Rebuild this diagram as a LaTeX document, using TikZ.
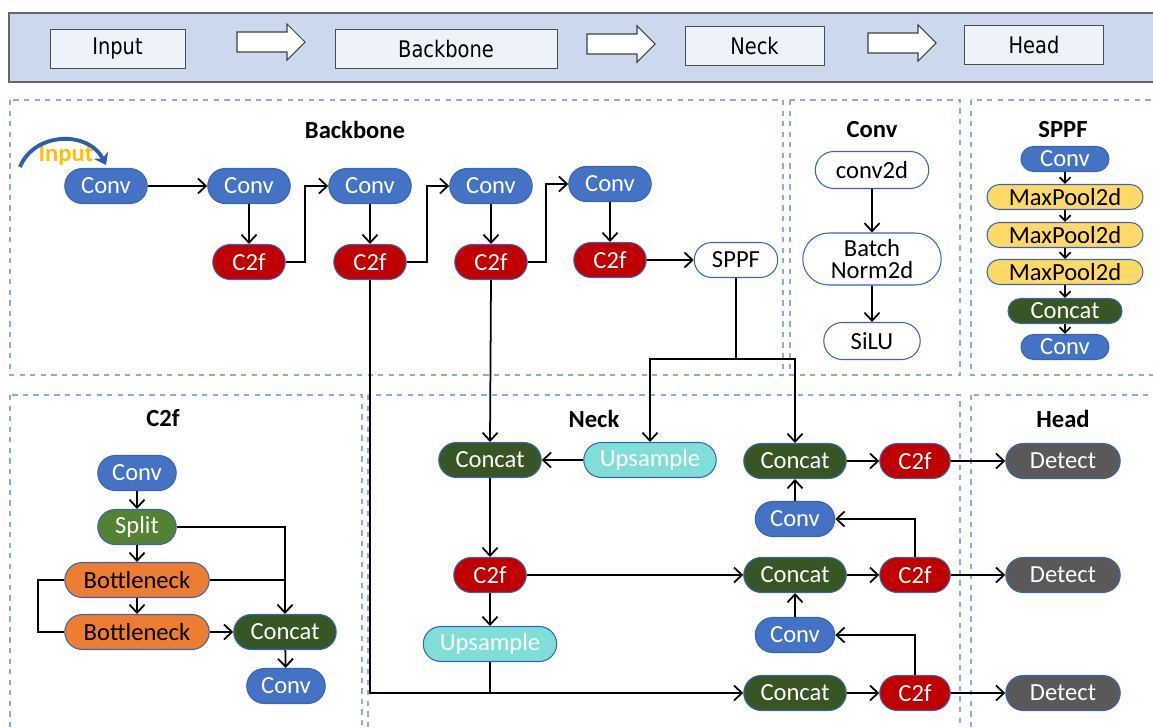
\documentclass[tikz,border=0pt]{standalone}
\usepackage{fontspec}
\setmainfont{Carlito}
\newfontfamily\barfont[FakeStretch=0.85]{DejaVu Sans}
\usepackage{xcolor}
\usetikzlibrary{shapes.misc, arrows.meta, positioning, calc}
\definecolor{convblue}{HTML}{4472C4}
\definecolor{c2fred}{HTML}{C00000}
\definecolor{catgreen}{HTML}{375623}
\definecolor{splitgreen}{HTML}{548235}
\definecolor{bnorange}{HTML}{ED7D31}
\definecolor{mpyellow}{HTML}{FFD966}
\definecolor{upcyan}{HTML}{7FDFD8}
\definecolor{detgray}{HTML}{595959}
\definecolor{edgeblue}{HTML}{3C64B4}
\definecolor{panelblue}{HTML}{8FAADC}
\definecolor{barblue}{HTML}{CCD8EE}
\definecolor{barbox}{HTML}{EEF2F9}
\definecolor{inorange}{HTML}{FFC000}
\definecolor{inblue}{HTML}{2E5FAE}

\begin{document}
\begin{tikzpicture}[
    x=0.02cm, y=-0.02cm,
    every node/.style={font=\fontsize{14}{15}\selectfont},
    blk/.style={rounded rectangle, draw=edgeblue, line width=0.6pt, minimum height=0.7cm, inner sep=1pt, text=white},
    conv/.style={blk, fill=convblue, minimum width=1.72cm},
    c2f/.style={blk, fill=c2fred, minimum width=1.52cm},
    concat/.style={blk, fill=catgreen, minimum width=2.12cm},
    upsample/.style={blk, fill=upcyan, minimum width=2.72cm},
    detect/.style={blk, fill=detgray, minimum width=2.36cm},
    plain/.style={blk, fill=white, text=black},
    small/.style={blk, minimum height=0.5cm, inner sep=0pt},
    title/.style={font=\fontsize{14}{15}\selectfont\bfseries},
    barbox/.style={rectangle, draw=black!70, fill=barbox, minimum height=0.78cm, font=\barfont\fontsize{13}{14}\selectfont},
    panel/.style={draw=panelblue, dashed, line width=0.6pt},
    arr/.style={-{Straight Barb[length=1.6mm, width=3mm]}, line width=1pt},
    line/.style={line width=1pt}
]
\useasboundingbox (0,0) rectangle (1153,727);

% Top bar
\fill[barblue] (9,13) rectangle (1160,82);
\draw[black!60, line width=0.8pt] (1160,13) -- (9,13) -- (9,82) -- (1160,82);
\node[barbox, minimum width=2.7cm] (barin) at (117.5,48.5) {Input};
\node[barbox, minimum width=4.44cm] (barbb) at (446,48.5) {Backbone};
\node[barbox, minimum width=2.78cm] (barneck) at (754.5,46) {Neck};
\node[barbox, minimum width=2.78cm] (barhead) at (1034,44.5) {Head};
\foreach \ax/\ay in {237/42, 587/44, 868/43}
    \draw[black!75, fill=white, line width=0.6pt] (\ax,\ay-10) -- ++(50,0) -- ++(0,-8) -- ++(18,18) -- ++(-18,18) -- ++(0,-8) -- ++(-50,0) -- cycle;

% Panels
\draw[panel] (10,100) rectangle (783,375);
\draw[panel] (790,100) rectangle (960,375);
\draw[panel] (971,100) rectangle (1160,375);
\draw[panel] (10,395) rectangle (362,732);
\draw[panel] (368,395) rectangle (960,732);
\draw[panel] (971,395) rectangle (1160,732);

% Titles
\node[title] (btitle) at (355,130) {Backbone};
\node[title] (ctitle) at (872,130) {Conv};
\node[title] (stitle) at (1063,130) {SPPF};
\node[title] (ftitle) at (163,418) {C2f};
\node[title] (ntitle) at (594,419) {Neck};
\node[title] (htitle) at (1063,419) {Head};

% Backbone
\node[conv] (bconva) at (106,186) {Conv};
\node[conv] (bconvb) at (249,186) {Conv};
\node[c2f] (bc2fa) at (249,262) {C2f};
\node[conv] (bconvc) at (370,186) {Conv};
\node[c2f] (bc2fb) at (370,262) {C2f};
\node[conv] (bconvd) at (491,186) {Conv};
\node[c2f] (bc2fc) at (491,262) {C2f};
\node[conv] (bconve) at (610,184) {Conv};
\node[c2f] (bc2fd) at (610,260) {C2f};
\node[plain, minimum width=1.74cm] (bsppf) at (736,260) {SPPF};

\node[font=\fontsize{14}{15}\selectfont\bfseries, text=inorange] (intext) at (66,155) {Input};
\draw[inblue, line width=2.2pt, -{Stealth[length=2.2mm, width=3.2mm]}] (20,167) .. controls (34,132) and (88,130) .. (106,165);

\draw[arr] (bconva) -- (bconvb);
\draw[arr] (bconvb) -- (bc2fa);
\draw[arr] (bc2fa.east) -- ++(19,0) |- (bconvc.west);
\draw[arr] (bconvc) -- (bc2fb);
\draw[arr] (bc2fb.east) -- ++(20,0) |- (bconvd.west);
\draw[arr] (bconvd) -- (bc2fc);
\draw[arr] (bc2fc.east) -- ++(18,0) |- (bconve.west);
\draw[arr] (bconve) -- (bc2fd);
\draw[arr] (bc2fd) -- (bsppf);

% Conv
\node[plain, minimum width=2.34cm, minimum height=0.74cm] (cconv) at (872,170) {conv2d};
\node[plain, minimum width=2.84cm, minimum height=1.04cm, align=center, font=\fontsize{14}{12.5}\selectfont] (cbn) at (872,259) {Batch\\Norm2d};
\node[plain, minimum width=2cm, minimum height=0.74cm] (csilu) at (872,341) {SiLU};
\draw[arr] (cconv) -- (cbn);
\draw[arr] (cbn) -- (csilu);

% SPPF
\node[small, fill=convblue, minimum width=1.76cm] (sconva) at (1065,159) {Conv};
\node[small, fill=mpyellow, text=black, minimum width=3.12cm] (smpa) at (1065,197) {MaxPool2d};
\node[small, fill=mpyellow, text=black, minimum width=3.12cm] (smpb) at (1065,235) {MaxPool2d};
\node[small, fill=mpyellow, text=black, minimum width=3.12cm] (smpc) at (1065,272) {MaxPool2d};
\node[small, fill=catgreen, minimum width=2.28cm] (scat) at (1065,311) {Concat};
\node[small, fill=convblue, minimum width=1.76cm] (sconvb) at (1065,347) {Conv};
\draw[arr, -{Straight Barb[length=1.1mm, width=2.2mm]}] (sconva) -- (smpa);
\draw[arr, -{Straight Barb[length=1.1mm, width=2.2mm]}] (smpa) -- (smpb);
\draw[arr, -{Straight Barb[length=1.1mm, width=2.2mm]}] (smpb) -- (smpc);
\draw[arr, -{Straight Barb[length=1.1mm, width=2.2mm]}] (smpc) -- (scat);
\draw[arr, -{Straight Barb[length=1.1mm, width=2.2mm]}] (scat) -- (sconvb);

% C2f
\node[conv, minimum width=1.64cm] (fconva) at (137,473) {Conv};
\node[blk, fill=splitgreen, minimum width=1.64cm] (fsplit) at (137,527) {Split};
\node[blk, fill=bnorange, text=black, minimum width=2.96cm] (fbota) at (137,580) {Bottleneck};
\node[blk, fill=bnorange, text=black, minimum width=2.96cm] (fbotb) at (137,632) {Bottleneck};
\node[concat] (fcat) at (285,632) {Concat};
\node[conv, minimum width=1.64cm] (fconvb) at (286,686) {Conv};
\draw[arr] (fconva) -- (fsplit);
\draw[arr] (fsplit) -- (fbota);
\draw[arr] (fbota) -- (fbotb);
\draw[arr] (fsplit.east) -| (fcat.north);
\draw[line] (fbota.east) -- (fbota.east -| fcat.north);
\draw[line] (fbota.west) -- ++(-26,0) |- (fbotb.west);
\draw[arr] (fbotb) -- (fcat);
\draw[arr] (fcat) -- (fconvb);

% Neck
\node[concat] (ncata) at (490,460) {Concat};
\node[upsample] (nupa) at (650,460) {Upsample};
\node[c2f] (nc2fa) at (490,575) {C2f};
\node[upsample, minimum width=2.74cm] (nupb) at (490,644) {Upsample};
\node[concat] (ncatb) at (795,461) {Concat};
\node[conv, minimum width=1.66cm] (nconva) at (795,519) {Conv};
\node[concat] (ncatc) at (795,575) {Concat};
\node[conv, minimum width=1.66cm] (nconvb) at (795,635) {Conv};
\node[concat] (ncatd) at (795,693) {Concat};
\node[c2f, minimum width=1.48cm] (nc2fb) at (915,461) {C2f};
\node[c2f, minimum width=1.48cm] (nc2fc) at (915,575) {C2f};
\node[c2f, minimum width=1.48cm] (nc2fd) at (915,693) {C2f};
\coordinate (sppfsplit) at (736,359);
\coordinate (upjoin) at (490,693);

\draw[arr] (bc2fc.south) -- (ncata.north);
\draw[line] (bsppf) -- (sppfsplit);
\draw[arr] (sppfsplit) -| (nupa.north);
\draw[arr] (sppfsplit) -| (ncatb.north);
\draw[arr] (nupa) -- (ncata);
\draw[arr] (ncata) -- (nc2fa);
\draw[arr] (nc2fa) -- (nupb);
\draw[arr] (nc2fa) -- (ncatc);
\draw[line] (nupb) -- (upjoin);
\draw[arr] (bc2fb.south) |- (ncatd.west);
\draw[arr] (ncatb) -- (nc2fb);
\draw[arr] (ncatc) -- (nc2fc);
\draw[arr] (ncatd) -- (nc2fd);
\draw[arr] (nc2fc.north) |- (nconva.east);
\draw[arr] (nc2fd.north) |- (nconvb.east);
\draw[arr] (nconva) -- (ncatb);
\draw[arr] (nconvb) -- (ncatc);

% Head
\node[detect] (hdeta) at (1063,461) {Detect};
\node[detect] (hdetb) at (1063,575) {Detect};
\node[detect] (hdetc) at (1063,693) {Detect};
\draw[arr] (nc2fb) -- (hdeta);
\draw[arr] (nc2fc) -- (hdetb);
\draw[arr] (nc2fd) -- (hdetc);

\end{tikzpicture}
\end{document}
